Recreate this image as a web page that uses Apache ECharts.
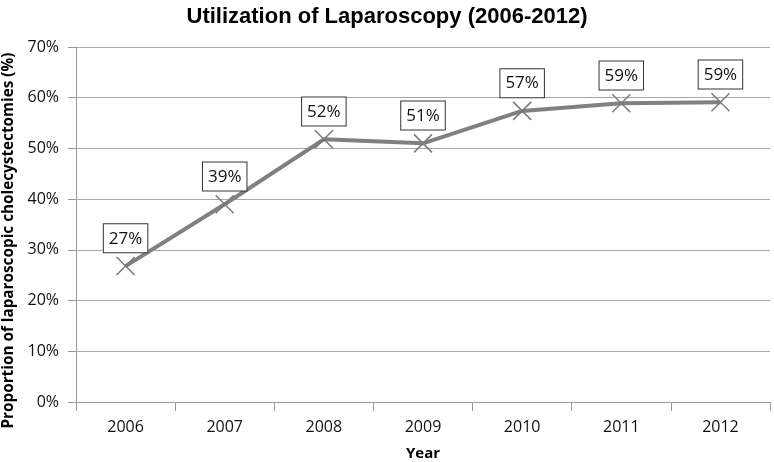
<!DOCTYPE html>
<html>
<head>
<meta charset="utf-8">
<script src="https://cdn.jsdelivr.net/npm/echarts@6/dist/echarts.min.js"></script>
<style>html,body{margin:0;padding:0;background:#fff;}#c{width:774px;height:462px;}</style>
</head>
<body>
<div id="c"></div>
<script>
const years = ['2006','2007','2008','2009','2010','2011','2012'];
const proportion = [26.8, 39.0, 51.8, 51.0, 57.4, 58.9, 59.1];
const yTicks = [0, 10, 20, 30, 40, 50, 60, 70];

const chart = echarts.init(document.getElementById('c'), null, {renderer: 'canvas'});
chart.setOption({
  animation: false,
  backgroundColor: '#fff',
  title: {
    text: 'Utilization of Laparoscopy (2006-2012)',
    left: 'center', top: 1,
    textStyle: {fontFamily: 'Liberation Sans', fontWeight: 'bold', fontSize: 22, color: '#000'}
  },
  grid: {left: 76, right: 4, top: 47, bottom: 60, containLabel: false, outerBoundsMode: 'none'},
  xAxis: {
    type: 'category', data: years, boundaryGap: true,
    name: 'Year', nameLocation: 'middle', nameGap: 44,
    nameTextStyle: {fontFamily: 'Open Sans', fontWeight: 'bold', fontSize: 15, color: '#000'},
    axisLine: {lineStyle: {color: '#9a9a9a', width: 1}},
    axisTick: {show: true, length: 9, lineStyle: {color: '#9a9a9a'}},
    axisLabel: {fontFamily: 'Open Sans', fontSize: 16, color: '#111', margin: 17}
  },
  yAxis: {
    type: 'value', min: yTicks[0], max: yTicks[yTicks.length-1], interval: 10,
    name: 'Proportion of laparoscopic cholecystectomies (%)', nameLocation: 'middle', nameGap: 53,
    nameTextStyle: {fontFamily: 'Open Sans', fontWeight: 'bold', fontSize: 15.3, color: '#000', padding: [0, 32, 0, 0]},
    axisLine: {show: true, lineStyle: {color: '#9a9a9a', width: 1}},
    axisTick: {show: true, length: 8, lineStyle: {color: '#9a9a9a'}},
    axisLabel: {fontFamily: 'Open Sans', fontSize: 16, color: '#111', margin: 17, formatter: '{value}%'},
    splitLine: {lineStyle: {color: '#a8a8a8', width: 1}}
  },
  series: [{
    type: 'line', data: proportion,
    lineStyle: {color: '#808080', width: 4},
    symbol: 'path://M0,0L10,10M10,0L0,10',
    symbolSize: 18,
    itemStyle: {color: 'rgba(0,0,0,0)', borderColor: '#7a7a7a', borderWidth: 1.5},
    label: {
      show: true, position: 'top', distance: 4,
      formatter: p => Math.round(p.value) + '%',
      fontFamily: 'Open Sans', fontSize: 17, color: '#111',
      backgroundColor: '#fff', borderColor: '#333', borderWidth: 1, padding: [6, 5, 5, 5]
    },
    z: 3
  }]
});
</script>
</body>
</html>
